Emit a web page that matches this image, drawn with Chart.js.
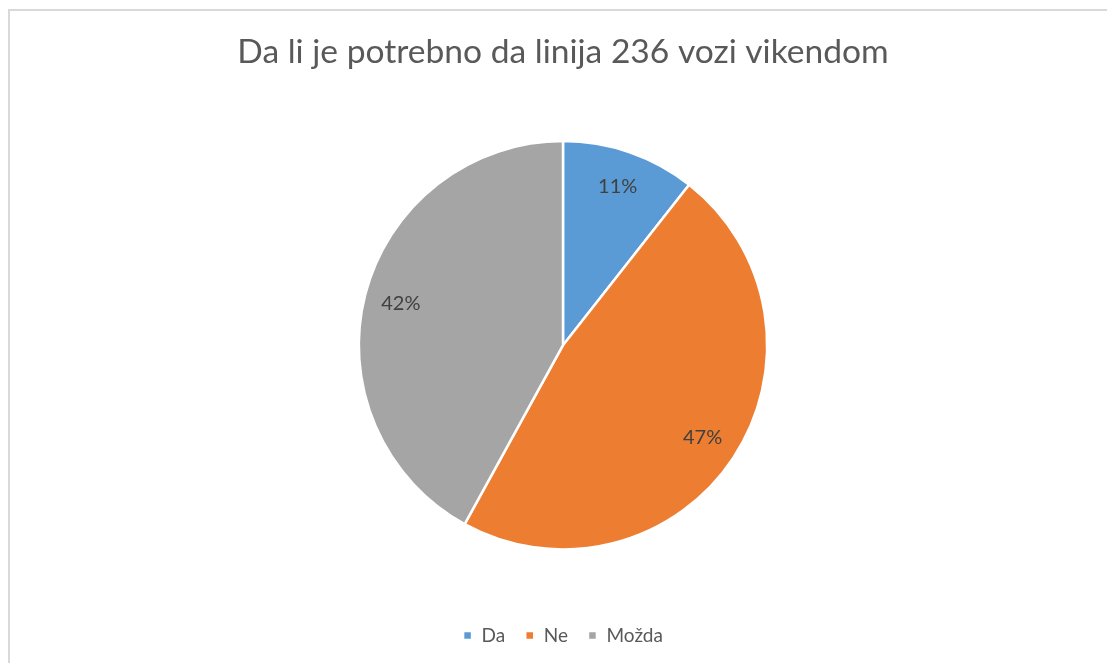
<!DOCTYPE html>
<html>
<head>
<meta charset="utf-8">
<script src="https://cdn.jsdelivr.net/npm/chart.js@4"></script>
<style>
  html, body { margin: 0; padding: 0; background: #fff; overflow: hidden; }
  #frame {
    position: absolute; left: 8px; top: 9px; width: 1200px; height: 800px;
    border-left: 2px solid #d9d9d9; border-top: 2px solid #d9d9d9;
  }
  #wrap { position: absolute; left: 0; top: 0; width: 1107px; height: 663px; }
</style>
</head>
<body>
<div id="frame"></div>
<div id="wrap"><canvas id="chart"></canvas></div>
<script>
// Survey answers (share of responses, %)
const titleText = 'Da li je potrebno da linija 236 vozi vikendom';
const categories = ['Da', 'Ne', 'Možda'];
const values = [10.6, 47.4, 42.0];
const colors = ['#5B9BD5', '#ED7D31', '#A5A5A5'];

const FONT = 'Lato, "Open Sans", sans-serif';

// percent labels inside each slice, Excel style
const sliceLabels = {
    id: 'sliceLabels',
    afterDatasetsDraw(chart) {
        const ctx = chart.ctx;
        const meta = chart.getDatasetMeta(0);
        const total = values.reduce((a, b) => a + b, 0);
        ctx.save();
        ctx.font = '20px ' + FONT;
        ctx.fillStyle = '#404040';
        ctx.textAlign = 'center';
        ctx.textBaseline = 'middle';
        meta.data.forEach((arc, i) => {
            const mid = (arc.startAngle + arc.endAngle) / 2;
            const r = arc.outerRadius * 0.82;
            const x = arc.x + Math.cos(mid) * r;
            const y = arc.y + Math.sin(mid) * r;
            ctx.fillText(Math.round(values[i] / total * 100) + '%', x, y);
        });
        ctx.restore();
    }
};

new Chart(document.getElementById('chart'), {
    type: 'pie',
    data: {
        labels: categories,
        datasets: [{
            data: values,
            backgroundColor: colors,
            borderColor: '#ffffff',
            borderWidth: 2.5
        }]
    },
    options: {
        responsive: true,
        maintainAspectRatio: false,
        animation: false,
        layout: { padding: { top: 0, bottom: 8, left: 19, right: 0 } },
        plugins: {
            title: {
                display: true,
                text: titleText,
                color: '#595959',
                font: { family: FONT, size: 33.6, weight: 'normal' },
                padding: { top: 32, bottom: 67.5 }
            },
            legend: {
                position: 'bottom',
                title: {
                    display: true,
                    text: '',
                    font: { size: 12 },
                    padding: { top: 0, bottom: 41 }
                },
                labels: {
                    color: '#595959',
                    font: { family: FONT, size: 19 },
                    boxWidth: 9,
                    boxHeight: 9,
                    padding: 20
                }
            },
            tooltip: { enabled: false }
        }
    },
    plugins: [sliceLabels]
});
</script>
</body>
</html>
